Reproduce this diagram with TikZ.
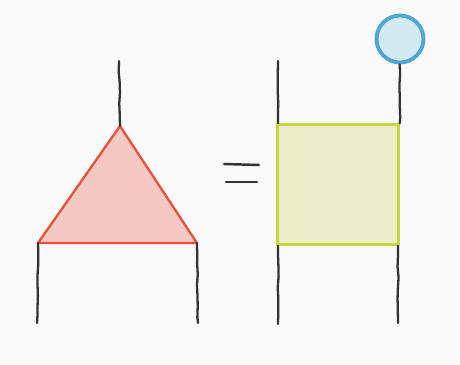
\documentclass[tikz,border=0pt]{standalone}
\usepackage{xcolor}
\usetikzlibrary{positioning, decorations.pathmorphing}
\definecolor{wireGray}{HTML}{333333}
\definecolor{triRed}{HTML}{E8503A}
\definecolor{triFill}{HTML}{F4C8C3}
\definecolor{boxLime}{HTML}{C8D63E}
\definecolor{boxFill}{HTML}{EBEFC9}
\definecolor{dotBlue}{HTML}{4DA7D6}
\definecolor{dotFill}{HTML}{D4E9F1}
\definecolor{paper}{HTML}{F9F9F9}

\begin{document}
\begin{tikzpicture}[x=0.02cm, y=-0.02cm,
    wire/.style={wireGray, line width=1.3pt, line cap=round,
      decorate, decoration={random steps, segment length=6pt, amplitude=0.35pt}},
    tri/.style={draw=triRed, fill=triFill, line width=1.3pt, line join=round},
    boxnode/.style={draw=boxLime, fill=boxFill, line width=1.4pt,
      minimum width=2.42cm, minimum height=2.4cm, inner sep=0pt},
    dotnode/.style={circle, draw=dotBlue, fill=dotFill, line width=2.2pt,
      minimum size=0.94cm, inner sep=0pt},
    eqbar/.style={wireGray, line width=1.4pt, line cap=round}]
    \useasboundingbox[fill=paper] (0,0) rectangle (460,365);
    % --- left side: triangle ---
    \coordinate (apex) at (120,126);
    \coordinate (triL) at (38,243);
    \coordinate (triR) at (197,243);
    \draw[tri] (apex) -- (triL) -- (triR) -- cycle;
    \coordinate (triTop) at (119,61);
    \coordinate (triOutL) at (37,323);
    \coordinate (triOutR) at (198,323);
    \draw[wire] (triTop) -- (apex);
    \draw[wire] (triL) -- (triOutL);
    \draw[wire] (triR) -- (triOutR);
    % --- equals sign ---
    \coordinate (eqA) at (224,164); \coordinate (eqB) at (259,165);
    \coordinate (eqC) at (226,182); \coordinate (eqD) at (257,182);
    \draw[eqbar] (eqA) -- (eqB);
    \draw[eqbar] (eqC) -- (eqD);
    % --- right side: box with a dot on one leg ---
    \node[boxnode] (box) at (338,184.5) {};
    \node[dotnode] (dot) at (400,39) {};
    \coordinate (boxTop) at (278,61);
    \coordinate (boxOutL) at (278,324);
    \coordinate (boxOutR) at (398,323);
    \draw[wire] (boxTop) -- (box.north west -| boxTop);
    \draw[wire] (dot.south -| box.north east) -- (box.north east);
    \draw[wire] (box.south west -| boxOutL) -- (boxOutL);
    \draw[wire] (box.south east -| boxOutR) -- (boxOutR);
  \end{tikzpicture}
\end{document}
